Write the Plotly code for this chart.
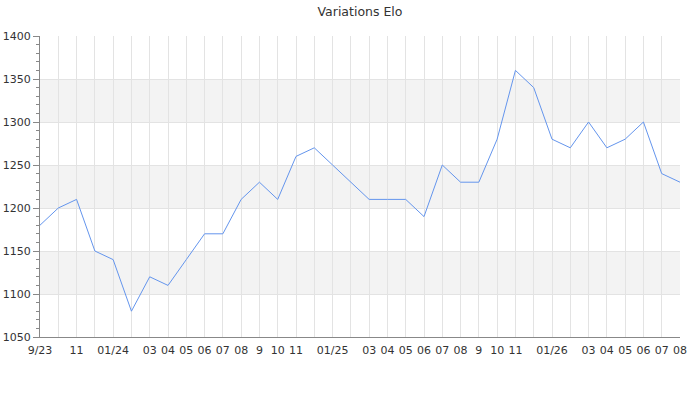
import plotly.graph_objects as go

months = ["9/23", "", "11", "", "01/24", "", "03", "04", "05", "06", "07", "08", "9", "10", "11", "",
          "01/25", "", "03", "04", "05", "06", "07", "08", "9", "10", "11", "",
          "01/26", "", "03", "04", "05", "06", "07", "08"]
elo = [1180, 1200, 1210, 1150, 1140, 1080, 1120, 1110, 1140, 1170, 1170, 1210, 1230, 1210,
       1260, 1270, 1250, 1230, 1210, 1210, 1210, 1190, 1250, 1230, 1230, 1280, 1360, 1340,
       1280, 1270, 1300, 1270, 1280, 1300, 1240, 1230]
bands = [(1100, 1150), (1200, 1250), (1300, 1350)]
y_range = [1050, 1400]

idx = list(range(len(elo)))

fig = go.Figure()
fig.add_trace(go.Scatter(x=idx, y=elo, mode="lines",
                         line=dict(color="#6495ED", width=1), hoverinfo="y"))

for lo, hi in bands:
    fig.add_shape(type="rect", xref="paper", x0=0, x1=1, yref="y", y0=lo, y1=hi,
                  fillcolor="#f3f3f3", line=dict(width=0), layer="below")

fig.update_layout(
    width=700, height=400,
    margin=dict(l=40, r=20, t=36, b=63, autoexpand=False),
    paper_bgcolor="white", plot_bgcolor="white",
    showlegend=False,
    font=dict(family="DejaVu Sans", size=11, color="#333"),
    title=dict(text="Variations Elo", x=0.5, xanchor="center", xref="paper",
               yref="container", y=0.97, yanchor="middle", automargin=False,
               font=dict(size=12.5, color="#333")),
)
fig.update_xaxes(range=[0, len(elo) - 1], tickmode="array", tickvals=idx, ticktext=months,
                 showgrid=True, gridcolor="#e3e3e3", gridwidth=1, zeroline=False,
                 showline=True, linecolor="#888", linewidth=1,
                 ticks="outside", ticklen=3, tickcolor="rgba(0,0,0,0)", tickangle=0,
                 automargin=False, tickfont=dict(size=11, color="#333"))
fig.update_yaxes(range=y_range, dtick=50, showgrid=True, gridcolor="#e3e3e3", gridwidth=1,
                 zeroline=False, showline=True, linecolor="#888", linewidth=1,
                 ticks="outside", ticklen=6, tickcolor="#888", automargin=False,
                 minor=dict(dtick=10, ticks="outside", ticklen=3, tickcolor="#888", showgrid=False),
                 tickfont=dict(size=11, color="#333"))

fig.write_html("out.html", config={"displayModeBar": False},
               post_script="document.body.style.margin='0';")
